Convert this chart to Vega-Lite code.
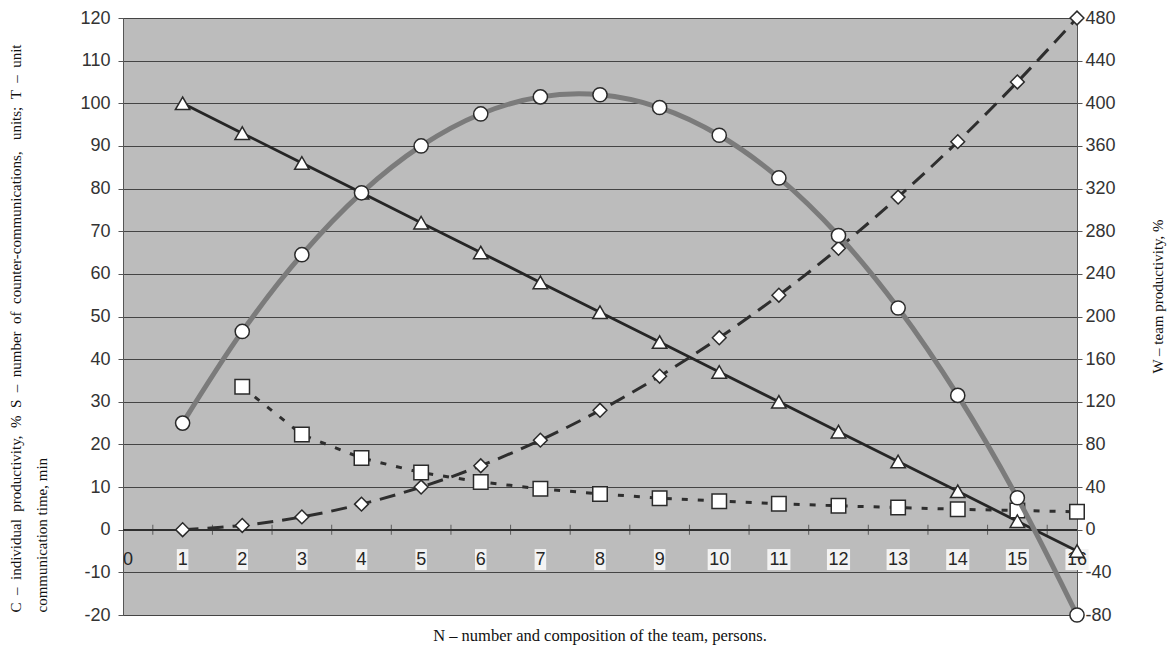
{
  "$schema": "https://vega.github.io/schema/vega-lite/v6.json",
  "width": 954,
  "height": 597,
  "autosize": {"type": "none"},
  "padding": {"left": 123, "top": 18, "right": 95, "bottom": 39},
  "background": "#ffffff",
  "title": {
    "text": "N – number and composition of the team, persons.",
    "orient": "bottom", "anchor": "middle", "offset": 3, "baseline": "top",
    "font": "Liberation Serif", "fontSize": 16.5, "fontWeight": "normal", "color": "#111111"
  },
  "config": {
    "view": {"fill": "#bcbcbc", "stroke": "#555555", "strokeWidth": 1},
    "font": "Liberation Sans"
  },
  "datasets": {
    "d": [
      {"N": 1, "C": 100, "S": 0, "T": null, "W": 100},
      {"N": 2, "C": 93, "S": 1, "T": 33.5, "W": 186},
      {"N": 3, "C": 86, "S": 3, "T": 22.3, "W": 258},
      {"N": 4, "C": 79, "S": 6, "T": 16.8, "W": 316},
      {"N": 5, "C": 72, "S": 10, "T": 13.4, "W": 360},
      {"N": 6, "C": 65, "S": 15, "T": 11.2, "W": 390},
      {"N": 7, "C": 58, "S": 21, "T": 9.6, "W": 406},
      {"N": 8, "C": 51, "S": 28, "T": 8.4, "W": 408},
      {"N": 9, "C": 44, "S": 36, "T": 7.4, "W": 396},
      {"N": 10, "C": 37, "S": 45, "T": 6.7, "W": 370},
      {"N": 11, "C": 30, "S": 55, "T": 6.1, "W": 330},
      {"N": 12, "C": 23, "S": 66, "T": 5.6, "W": 276},
      {"N": 13, "C": 16, "S": 78, "T": 5.2, "W": 208},
      {"N": 14, "C": 9, "S": 91, "T": 4.8, "W": 126},
      {"N": 15, "C": 2, "S": 105, "T": 4.5, "W": 30},
      {"N": 16, "C": -5, "S": 120, "T": 4.2, "W": -80}
    ],
    "labels": [
      {"n": 0}, {"n": 1}, {"n": 2}, {"n": 3}, {"n": 4}, {"n": 5}, {"n": 6}, {"n": 7}, {"n": 8},
      {"n": 9}, {"n": 10}, {"n": 11}, {"n": 12}, {"n": 13}, {"n": 14}, {"n": 15}, {"n": 16}
    ],
    "halfticks": [
      {"h": 0.5}, {"h": 1.5}, {"h": 2.5}, {"h": 3.5}, {"h": 4.5}, {"h": 5.5}, {"h": 6.5}, {"h": 7.5},
      {"h": 8.5}, {"h": 9.5}, {"h": 10.5}, {"h": 11.5}, {"h": 12.5}, {"h": 13.5}, {"h": 14.5}, {"h": 15.5}
    ]
  },
  "layer": [
    {
      "data": {"name": "d"},
      "mark": {"type": "line", "color": "#2e2e2e", "strokeWidth": 3, "strokeDash": [16, 9], "interpolate": "catmull-rom"},
      "encoding": {
        "x": {
          "field": "N", "type": "quantitative",
          "scale": {"domain": [0, 16], "nice": false, "zero": false},
          "axis": {
            "values": [0, 1, 2, 3, 4, 5, 6, 7, 8, 9, 10, 11, 12, 13, 14, 15, 16],
            "grid": true, "gridColor": "#444444", "gridWidth": 1, "gridOpacity": 1,
            "labels": false, "ticks": false, "domain": true, "domainColor": "#555555",
            "title": null
          }
        },
        "y": {
          "field": "S", "type": "quantitative",
          "scale": {"domain": [-20, 120], "nice": false, "zero": false},
          "axis": {
            "values": [-20, -10, 0, 10, 20, 30, 40, 50, 60, 70, 80, 90, 100, 110, 120],
            "labelExpr": "'' + datum.value",
            "grid": true, "gridColor": "#444444", "gridWidth": 1, "gridOpacity": 1,
            "tickSize": 5, "tickColor": "#555555", "labelPadding": 8,
            "labelFont": "Liberation Sans", "labelFontSize": 18, "labelColor": "#333333",
            "domainColor": "#555555",
            "title": ["C \u00a0– \u00a0individual \u00a0productivity, \u00a0% \u00a0S \u00a0– \u00a0number \u00a0of \u00a0counter-communications, \u00a0\u00a0units; \u00a0T \u00a0– \u00a0unit", "communication time, min"],
            "titleFont": "Liberation Serif", "titleFontSize": 15, "titleFontWeight": "normal",
            "titleColor": "#111111", "titleAngle": -90, "titleX": -108, "titleY": 594,
            "titleAlign": "left", "titleBaseline": "middle", "titleLineHeight": 26
          }
        }
      }
    },
    {
      "data": {"name": "halfticks"},
      "mark": {"type": "rule", "color": "#2e2e2e", "strokeWidth": 1.5},
      "encoding": {
        "y": {"datum": 0, "type": "quantitative", "scale": {"domain": [-20, 120], "nice": false, "zero": false}, "axis": null}
      }
    },
    {
      "data": {"name": "halfticks"},
      "mark": {"type": "tick", "orient": "vertical", "color": "#333333", "size": 10, "thickness": 1},
      "encoding": {
        "x": {"field": "h", "type": "quantitative", "axis": null},
        "y": {"datum": 0, "type": "quantitative", "scale": {"domain": [-20, 120], "nice": false, "zero": false}, "axis": null}
      }
    },
    {
      "data": {"name": "labels"},
      "transform": [{"filter": "datum.n >= 1 && datum.n <= 9"}],
      "mark": {"type": "point", "shape": "M-0.55,-1H0.55V1H-0.55Z", "size": 441, "filled": true, "color": "#f3f3f3", "opacity": 1},
      "encoding": {
        "x": {"field": "n", "type": "quantitative", "axis": null},
        "y": {"datum": -7, "type": "quantitative", "scale": {"domain": [-20, 120], "nice": false, "zero": false}, "axis": null}
      }
    },
    {
      "data": {"name": "labels"},
      "transform": [{"filter": "datum.n >= 10"}],
      "mark": {"type": "point", "shape": "M-1.1,-1H1.1V1H-1.1Z", "size": 441, "filled": true, "color": "#f3f3f3", "opacity": 1},
      "encoding": {
        "x": {"field": "n", "type": "quantitative", "axis": null},
        "y": {"datum": -7, "type": "quantitative", "scale": {"domain": [-20, 120], "nice": false, "zero": false}, "axis": null}
      }
    },
    {
      "data": {"name": "labels"},
      "transform": [{"filter": "datum.n >= 1"}],
      "mark": {"type": "text", "font": "Liberation Sans", "fontSize": 18, "color": "#262626", "align": "center", "baseline": "middle"},
      "encoding": {
        "x": {"field": "n", "type": "quantitative", "axis": null},
        "y": {"datum": -7, "type": "quantitative", "scale": {"domain": [-20, 120], "nice": false, "zero": false}, "axis": null},
        "text": {"field": "n", "type": "quantitative"}
      }
    },
    {
      "data": {"name": "labels"},
      "transform": [{"filter": "datum.n == 0"}],
      "mark": {"type": "text", "font": "Liberation Sans", "fontSize": 18, "color": "#262626", "align": "left", "baseline": "middle"},
      "encoding": {
        "x": {"field": "n", "type": "quantitative", "axis": null},
        "y": {"datum": -7, "type": "quantitative", "scale": {"domain": [-20, 120], "nice": false, "zero": false}, "axis": null},
        "text": {"field": "n", "type": "quantitative"}
      }
    },
    {
      "data": {"name": "d"},
      "mark": {"type": "line", "color": "#2e2e2e", "strokeWidth": 3, "strokeDash": [6, 10]},
      "encoding": {
        "x": {"field": "N", "type": "quantitative", "axis": null},
        "y": {"field": "T", "type": "quantitative", "scale": {"domain": [-20, 120], "nice": false, "zero": false}, "axis": null}
      }
    },
    {
      "data": {"name": "d"},
      "mark": {"type": "line", "color": "#262626", "strokeWidth": 2.8},
      "encoding": {
        "x": {"field": "N", "type": "quantitative", "axis": null},
        "y": {"field": "C", "type": "quantitative", "scale": {"domain": [-20, 120], "nice": false, "zero": false}, "axis": null}
      }
    },
    {
      "data": {"name": "d"},
      "mark": {"type": "point", "shape": "diamond", "size": 190, "filled": true, "fill": "#ffffff", "stroke": "#2a2a2a", "strokeWidth": 1.5, "opacity": 1},
      "encoding": {
        "x": {"field": "N", "type": "quantitative", "axis": null},
        "y": {"field": "S", "type": "quantitative", "scale": {"domain": [-20, 120], "nice": false, "zero": false}, "axis": null}
      }
    },
    {
      "data": {"name": "d"},
      "mark": {"type": "point", "shape": "square", "size": 210, "filled": true, "fill": "#ffffff", "stroke": "#2a2a2a", "strokeWidth": 1.5, "opacity": 1},
      "encoding": {
        "x": {"field": "N", "type": "quantitative", "axis": null},
        "y": {"field": "T", "type": "quantitative", "scale": {"domain": [-20, 120], "nice": false, "zero": false}, "axis": null}
      }
    },
    {
      "data": {"name": "d"},
      "mark": {"type": "point", "shape": "triangle-up", "size": 210, "filled": true, "fill": "#ffffff", "stroke": "#2a2a2a", "strokeWidth": 1.5, "opacity": 1},
      "encoding": {
        "x": {"field": "N", "type": "quantitative", "axis": null},
        "y": {"field": "C", "type": "quantitative", "scale": {"domain": [-20, 120], "nice": false, "zero": false}, "axis": null}
      }
    },
    {
      "data": {"name": "d"},
      "mark": {"type": "line", "color": "#7b7b7b", "strokeWidth": 5, "interpolate": "catmull-rom"},
      "encoding": {
        "x": {"field": "N", "type": "quantitative", "axis": null},
        "y": {
          "field": "W", "type": "quantitative",
          "scale": {"domain": [-80, 480], "nice": false, "zero": false},
          "axis": {
            "orient": "right",
            "values": [-80, -40, 0, 40, 80, 120, 160, 200, 240, 280, 320, 360, 400, 440, 480],
            "labelExpr": "'' + datum.value",
            "grid": false, "tickSize": 5, "tickColor": "#555555", "labelPadding": 3,
            "labelFont": "Liberation Sans", "labelFontSize": 18, "labelColor": "#333333",
            "domainColor": "#555555",
            "title": "W – team productivity, %",
            "titleFont": "Liberation Serif", "titleFontSize": 15, "titleFontWeight": "normal",
            "titleColor": "#111111", "titleAngle": -90, "titleX": 80, "titleY": 278,
            "titleAlign": "center", "titleBaseline": "middle"
          }
        }
      }
    },
    {
      "data": {"name": "d"},
      "mark": {"type": "point", "shape": "circle", "size": 200, "filled": true, "fill": "#ffffff", "stroke": "#2a2a2a", "strokeWidth": 1.5, "opacity": 1},
      "encoding": {
        "x": {"field": "N", "type": "quantitative", "axis": null},
        "y": {"field": "W", "type": "quantitative", "scale": {"domain": [-80, 480], "nice": false, "zero": false}, "axis": null}
      }
    }
  ],
  "resolve": {"scale": {"y": "independent"}, "axis": {"y": "independent"}}
}
